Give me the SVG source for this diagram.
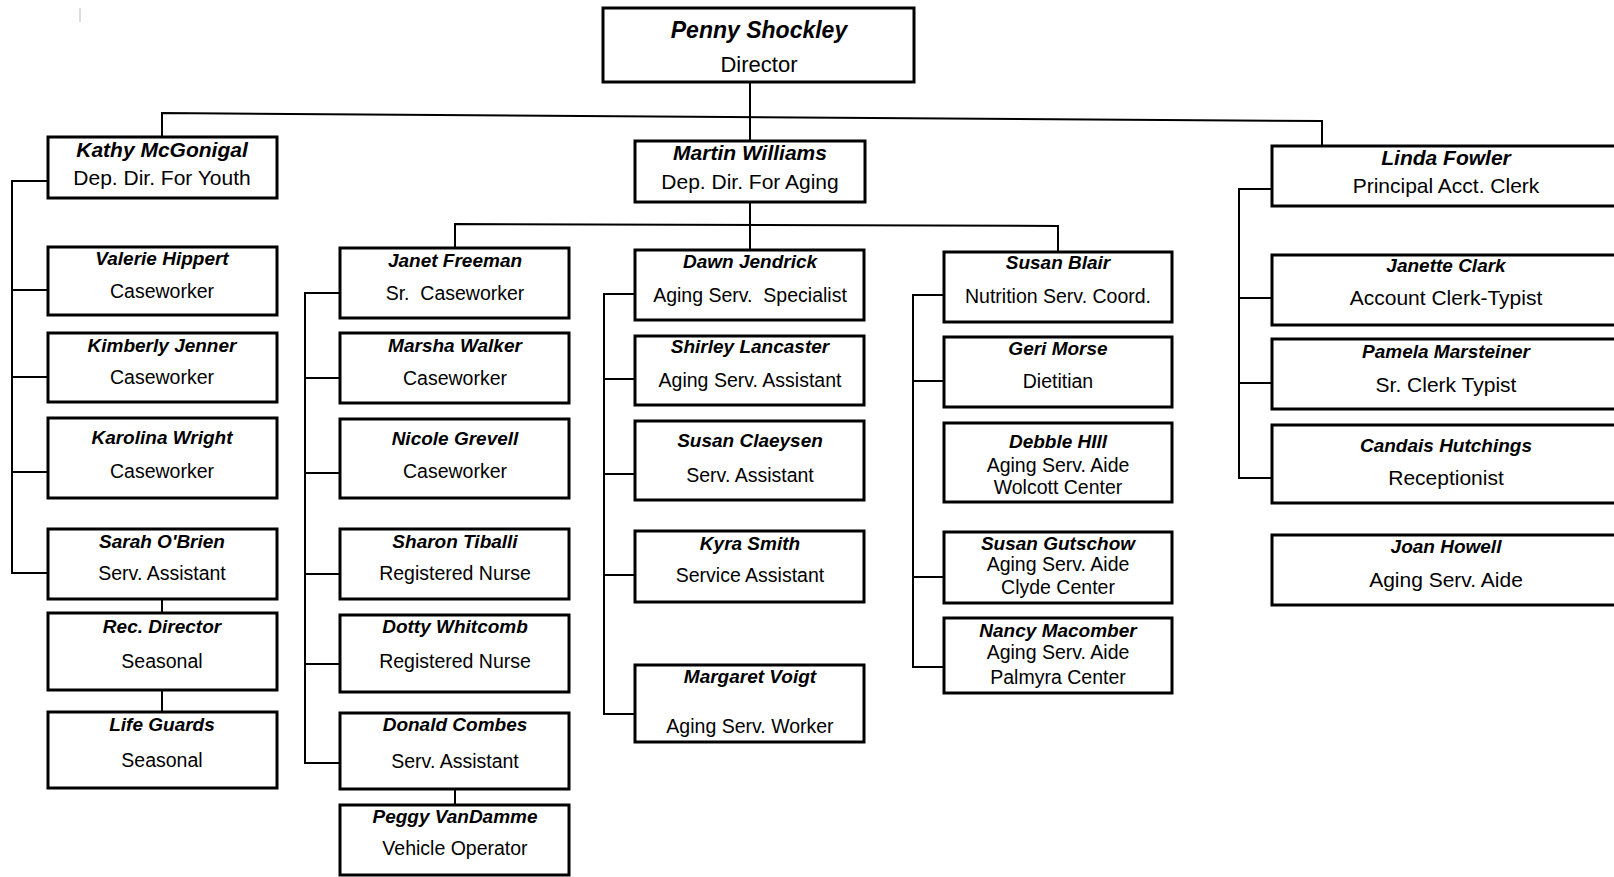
<svg xmlns="http://www.w3.org/2000/svg" width="1614" height="877" viewBox="0 0 1614 877">
<style>
.box{fill:#fff;stroke:#000;stroke-width:3}
.c{fill:none;stroke:#000;stroke-width:2}
text{font-family:"Liberation Sans",Arial,sans-serif;text-anchor:middle;fill:#000}
.n{font-weight:bold;font-style:italic;font-size:19px}
.r{font-size:19.5px}
.n2{font-weight:bold;font-style:italic;font-size:21px}
.r2{font-size:21px}
.r3{font-size:21px}
</style>
<rect width="1614" height="877" fill="#fff"/>
<line x1="80" y1="8" x2="80" y2="22" stroke="#bbb" stroke-width="1"/>
<g id="connectors">
<path class="c" d="M750,82 V141"/>
<path class="c" d="M162,137 V113 L1322,121 V146"/>
<path class="c" d="M750,202 V250"/>
<path class="c" d="M455,247 V224 L1058,226 V252"/>
<path class="c" d="M48,181 H12 V573 H48 M12,290 H48 M12,377 H48 M12,472 H48"/>
<path class="c" d="M162,599 V613 M162,690 V712"/>
<path class="c" d="M340,293 H305 V763 H340 M305,378 H340 M305,473 H340 M305,574 H340 M305,664 H340"/>
<path class="c" d="M455,789 V805"/>
<path class="c" d="M635,294 H604 V714 H635 M604,379 H635 M604,474 H635 M604,575 H635"/>
<path class="c" d="M944,295 H913 V667 H944 M913,381 H944 M913,577 H944"/>
<path class="c" d="M1272,189 H1239 V478 H1272 M1239,298 H1272 M1239,383 H1272"/>
</g>
<g id="penny"><rect class="box" x="603" y="8" width="311" height="74"/><text class="n2" x="759" y="38" style="font-size:23px">Penny Shockley</text><text x="759" y="72" style="font-size:22px">Director</text></g>
<g id="kathy"><rect class="box" x="48" y="137" width="229" height="61"/><text class="n2" x="162" y="157">Kathy McGonigal</text><text class="r2" x="162" y="185">Dep. Dir. For Youth</text></g>
<g id="martin"><rect class="box" x="635" y="141" width="230" height="61"/><text class="n2" x="750" y="160">Martin Williams</text><text class="r2" x="750" y="189">Dep. Dir. For Aging</text></g>
<g id="linda"><rect class="box" x="1272" y="146" width="350" height="60"/><text class="n2" x="1446" y="165">Linda Fowler</text><text class="r2" x="1446" y="193">Principal Acct. Clerk</text></g>
<g id="valerie"><rect class="box" x="48" y="247" width="229" height="68"/><text class="n" x="162" y="265">Valerie Hippert</text><text class="r" x="162" y="298">Caseworker</text></g>
<g id="kimberly"><rect class="box" x="48" y="333" width="229" height="69"/><text class="n" x="162" y="352">Kimberly Jenner</text><text class="r" x="162" y="384">Caseworker</text></g>
<g id="karolina"><rect class="box" x="48" y="418" width="229" height="80"/><text class="n" x="162" y="444">Karolina Wright</text><text class="r" x="162" y="478">Caseworker</text></g>
<g id="sarah"><rect class="box" x="48" y="529" width="229" height="70"/><text class="n" x="162" y="548">Sarah O'Brien</text><text class="r" x="162" y="580">Serv. Assistant</text></g>
<g id="rec"><rect class="box" x="48" y="613" width="229" height="77"/><text class="n" x="162" y="633">Rec. Director</text><text class="r" x="162" y="668">Seasonal</text></g>
<g id="lifeguards"><rect class="box" x="48" y="712" width="229" height="76"/><text class="n" x="162" y="731">Life Guards</text><text class="r" x="162" y="767">Seasonal</text></g>
<g id="janet"><rect class="box" x="340" y="248" width="229" height="70"/><text class="n" x="455" y="267">Janet Freeman</text><text class="r" x="455" y="300" xml:space="preserve">Sr.  Caseworker</text></g>
<g id="marsha"><rect class="box" x="340" y="333" width="229" height="70"/><text class="n" x="455" y="352">Marsha Walker</text><text class="r" x="455" y="385">Caseworker</text></g>
<g id="nicole"><rect class="box" x="340" y="419" width="229" height="79"/><text class="n" x="455" y="445">Nicole Grevell</text><text class="r" x="455" y="478">Caseworker</text></g>
<g id="sharon"><rect class="box" x="340" y="529" width="229" height="70"/><text class="n" x="455" y="548">Sharon Tiballi</text><text class="r" x="455" y="580">Registered Nurse</text></g>
<g id="dotty"><rect class="box" x="340" y="615" width="229" height="77"/><text class="n" x="455" y="633">Dotty Whitcomb</text><text class="r" x="455" y="668">Registered Nurse</text></g>
<g id="donald"><rect class="box" x="340" y="713" width="229" height="76"/><text class="n" x="455" y="731">Donald Combes</text><text class="r" x="455" y="768">Serv. Assistant</text></g>
<g id="peggy"><rect class="box" x="340" y="805" width="229" height="70"/><text class="n" x="455" y="823">Peggy VanDamme</text><text class="r" x="455" y="855">Vehicle Operator</text></g>
<g id="dawn"><rect class="box" x="635" y="250" width="229" height="70"/><text class="n" x="750" y="268">Dawn Jendrick</text><text class="r" x="750" y="302" xml:space="preserve">Aging Serv.  Specialist</text></g>
<g id="shirley"><rect class="box" x="635" y="336" width="229" height="69"/><text class="n" x="750" y="353">Shirley Lancaster</text><text class="r" x="750" y="387">Aging Serv. Assistant</text></g>
<g id="claeysen"><rect class="box" x="635" y="421" width="229" height="79"/><text class="n" x="750" y="447">Susan Claeysen</text><text class="r" x="750" y="482">Serv. Assistant</text></g>
<g id="kyra"><rect class="box" x="635" y="531" width="229" height="71"/><text class="n" x="750" y="550">Kyra Smith</text><text class="r" x="750" y="582">Service Assistant</text></g>
<g id="margaret"><rect class="box" x="635" y="665" width="229" height="77"/><text class="n" x="750" y="683">Margaret Voigt</text><text class="r" x="750" y="733">Aging Serv. Worker</text></g>
<g id="blair"><rect class="box" x="944" y="252" width="228" height="70"/><text class="n" x="1058" y="269">Susan Blair</text><text class="r" x="1058" y="303">Nutrition Serv. Coord.</text></g>
<g id="geri"><rect class="box" x="944" y="337" width="228" height="70"/><text class="n" x="1058" y="355">Geri Morse</text><text class="r" x="1058" y="388">Dietitian</text></g>
<g id="debbie"><rect class="box" x="944" y="423" width="228" height="79"/><text class="n" x="1058" y="448">Debble HIll</text><text class="r" x="1058" y="472">Aging Serv. Aide</text><text class="r" x="1058" y="494">Wolcott Center</text></g>
<g id="gutschow"><rect class="box" x="944" y="532" width="228" height="71"/><text class="n" x="1058" y="550">Susan Gutschow</text><text class="r" x="1058" y="571">Aging Serv. Aide</text><text class="r" x="1058" y="594">Clyde Center</text></g>
<g id="nancy"><rect class="box" x="944" y="618" width="228" height="75"/><text class="n" x="1058" y="637">Nancy Macomber</text><text class="r" x="1058" y="659">Aging Serv. Aide</text><text class="r" x="1058" y="684">Palmyra Center</text></g>
<g id="janette"><rect class="box" x="1272" y="255" width="350" height="70"/><text class="n" x="1446" y="272">Janette Clark</text><text class="r3" x="1446" y="305">Account Clerk-Typist</text></g>
<g id="pamela"><rect class="box" x="1272" y="339" width="350" height="70"/><text class="n" x="1446" y="358">Pamela Marsteiner</text><text class="r3" x="1446" y="392">Sr. Clerk Typist</text></g>
<g id="candais"><rect class="box" x="1272" y="425" width="350" height="78"/><text class="n" x="1446" y="452">Candais Hutchings</text><text class="r3" x="1446" y="485">Receptionist</text></g>
<g id="joan"><rect class="box" x="1272" y="535" width="350" height="70"/><text class="n" x="1446" y="553">Joan Howell</text><text class="r3" x="1446" y="587">Aging Serv. Aide</text></g>
</svg>
